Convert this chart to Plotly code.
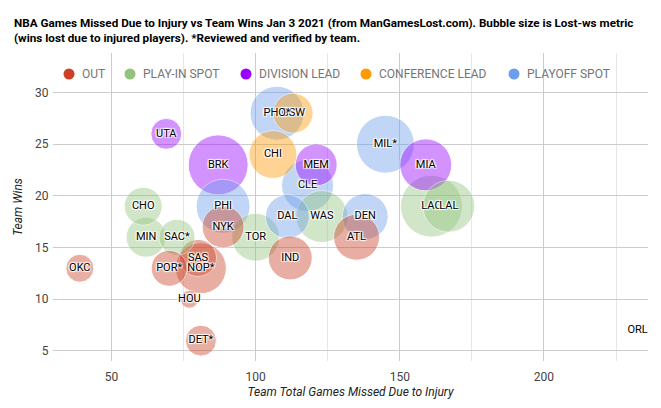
import numpy as np
import plotly.graph_objects as go

# ---- data ----
teams = ["UTA", "BRK", "PHI", "CHO", "MIN", "SAC*", "NYK", "GSW", "PHO*", "CHI",
         "MEM", "CLE", "DAL", "WAS", "DEN", "ATL", "MIL*", "MIA", "LAC", "LAL",
         "TOR", "OKC", "POR*", "SAS", "NOP*", "HOU", "DET*", "IND", "ORL*"]
games_missed = [69, 87, 88.7, 61, 62, 72.7, 88.7, 113, 107.4, 106,
                121, 118, 111, 123, 138, 135, 145, 159, 161, 167,
                100, 39, 70, 80, 81, 77, 81, 112, 233.3]
wins = [26, 23, 19, 19, 16, 16, 17, 28, 28, 24,
        23, 21, 18, 18, 18, 16, 25, 23, 19, 19,
        16, 13, 13, 14, 13, 10, 6, 14, 7]
lost_ws = [1.55, 3.0, 2.7, 1.9, 2.0, 1.8, 2.1, 2.0, 2.7, 2.4,
           2.1, 2.6, 2.2, 2.6, 2.3, 2.3, 2.9, 2.6, 3.1, 2.6,
           2.4, 1.4, 1.8, 1.85, 2.55, 0.9, 1.55, 2.2, 0.1]
status = ["DIVISION LEAD", "DIVISION LEAD", "PLAYOFF SPOT", "PLAY-IN SPOT", "PLAY-IN SPOT",
          "PLAY-IN SPOT", "OUT", "CONFERENCE LEAD", "PLAYOFF SPOT", "CONFERENCE LEAD",
          "DIVISION LEAD", "PLAYOFF SPOT", "PLAYOFF SPOT", "PLAY-IN SPOT", "PLAYOFF SPOT",
          "OUT", "PLAYOFF SPOT", "DIVISION LEAD", "PLAY-IN SPOT", "PLAY-IN SPOT",
          "PLAY-IN SPOT", "OUT", "OUT", "OUT", "OUT", "OUT", "OUT", "OUT", "OUT"]

categories = ["OUT", "PLAY-IN SPOT", "DIVISION LEAD", "CONFERENCE LEAD", "PLAYOFF SPOT"]
cat_colors = ["#cc4125", "#93c47d", "#9900ff", "#ff9900", "#6d9eeb"]
color_map = dict(zip(categories, cat_colors))

title_text = ("<b>NBA Games Missed Due to Injury vs Team Wins Jan 3 2021 (from ManGamesLost.com). "
              "Bubble size is Lost-ws metric<br>(wins lost due to injured players). "
              "*Reviewed and verified by team.</b>")

# ---- layout constants (pixels; the page body adds an 8px offset) ----
OFF = 8
W, H = 661 - OFF, 408 - OFF
L, R, T, B = 53 - OFF, 13, 53 - OFF, 47
PW, PH = W - L - R, H - T - B

def px_x(p):
    return (p - OFF - L) / PW

def px_y(p):
    return (H - B - (p - OFF)) / PH

# ---- figure ----
order = np.argsort(-np.array(lost_ws), kind="stable")  # bigger bubbles drawn first
xs = [games_missed[i] for i in order]
ys = [wins[i] for i in order]
ss = [lost_ws[i] for i in order]
cs = [color_map[status[i]] for i in order]
ts = [teams[i] for i in order]

fig = go.Figure()

fig.add_trace(go.Scatter(
    x=xs, y=ys, mode="markers", showlegend=False, text=ts,
    marker=dict(size=ss, sizemode="diameter", sizeref=0.05, color=cs,
                opacity=0.42, line=dict(color="white", width=1)),
    hovertemplate="%{text}<br>%{x}, %{y}<extra></extra>"))

# labels in data order, on top of all bubbles
fig.add_trace(go.Scatter(
    x=games_missed, y=wins, mode="text", text=teams, showlegend=False, hoverinfo="skip",
    textfont=dict(family="Roboto", size=11, color="#000000",
                  shadow="1px 1px 1px #fff, -1px -1px 1px #fff, 1px -1px 1px #fff, -1px 1px 1px #fff")))

# legend drawn at the top inside the plot area, like the reference
legend_cx = [69, 130, 246, 366, 514]
legend_cy = 74
shapes, annotations = [], []
for cat, col, cx in zip(categories, cat_colors, legend_cx):
    shapes.append(dict(type="circle", xref="paper", yref="paper",
                       xsizemode="pixel", ysizemode="pixel",
                       xanchor=px_x(cx), yanchor=px_y(legend_cy),
                       x0=-5.5, x1=5.5, y0=-5.5, y1=5.5,
                       fillcolor=col, line=dict(width=0)))
    annotations.append(dict(text=cat, xref="paper", yref="paper",
                            x=px_x(cx + 11), y=px_y(legend_cy),
                            xanchor="left", yanchor="middle", showarrow=False,
                            font=dict(family="Roboto", size=12, color="#757575")))

# chart title (two lines, left aligned)
annotations.append(dict(text=title_text, xref="paper", yref="paper",
                        x=px_x(12), y=px_y(30), xanchor="left", yanchor="middle",
                        align="left", showarrow=False,
                        font=dict(family="Roboto", size=11.7, color="#000000")))

fig.update_layout(
    width=W, height=H,
    margin=dict(l=L, r=R, t=T, b=B),
    paper_bgcolor="white", plot_bgcolor="white",
    font=dict(family="Roboto", size=12, color="#444444"),
    shapes=shapes, annotations=annotations,
    showlegend=False,
)

fig.update_xaxes(range=[29.7, 236.1], tick0=0, dtick=50, showgrid=True, gridcolor="#cccccc",
                 minor=dict(tick0=0, dtick=25, showgrid=True, gridcolor="#e6e6e6"),
                 zeroline=False, showline=False, ticks="outside", ticklen=5,
                 tickcolor="rgba(0,0,0,0)", tickfont=dict(size=12, color="#444444"),
                 title=dict(text="<i>Team Total Games Missed Due to Injury</i>", standoff=4,
                            font=dict(size=12, color="#222222")),
                 automargin=False)
fig.update_yaxes(range=[4.03, 33.82], tick0=0, dtick=5, showgrid=True, gridcolor="#cccccc",
                 zeroline=False, showline=False, ticks="outside", ticklen=1,
                 tickcolor="rgba(0,0,0,0)", tickfont=dict(size=12, color="#444444"),
                 title=dict(text="<i>Team Wins</i>", standoff=9,
                            font=dict(size=12, color="#222222")),
                 automargin=False)

fig.write_html("out.html")
